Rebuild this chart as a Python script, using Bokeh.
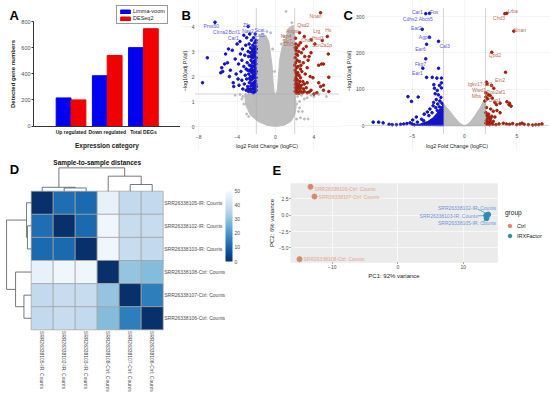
import math
from bokeh.plotting import figure
from bokeh.layouts import row, column
from bokeh.models import (Range1d, ColumnDataSource, Legend, LegendItem, FixedTicker,
                          LinearColorMapper, ColorBar, LinearAxis)
from bokeh.palettes import Blues256
from bokeh.transform import dodge
from bokeh.core.properties import value
from bokeh.embed import file_html
from bokeh.resources import INLINE

FONT = "Liberation Sans"

# ---------- Panel A ----------
A_CATS = ["Up regulated", "Down regulated", "Total DEGs"]
A_POS = [0.5, 1.5, 2.5]
A_LIMMA = [215, 385, 600]
A_DESEQ = [200, 540, 745]

# ---------- Panel B (log2FC, -log10 adj.P) ----------
B_GREY_OUTLINE = [(0, 0), (0.9, 0.05), (1.6, 0.2), (2.0, 0.45), (2.15, 0.8), (2.05, 1.3), (2.0, 2), (2.0, 3), (2.0, 3.6),
                  (1.85, 4.05), (1.4, 3.95), (1.1, 3.6), (0.7, 3.2), (0.45, 2.7), (0.3, 2.0), (0.2, 1.5), (0.05, 1.25),
                  (-0.15, 1.4), (-0.25, 1.8), (-0.35, 2.4), (-0.55, 3.0), (-0.7, 3.4), (-1.0, 3.65), (-1.6, 3.6),
                  (-2.0, 3.3), (-2.0, 1.4), (-3.2, 1.25), (-3.1, 0.85), (-2.6, 0.45), (-1.8, 0.2), (-0.9, 0.05)]
B_GREY_PTS = [(-3.5, 1.1), (-4.2, 1.25), (-3.3, 0.9), (-3.4, 1.2), (-3.0, 0.5), (-2.8, 0.4), (-3.7, 1.28), (-3.1, 1.28),
              (5.3, 1.2), (4.5, 1.28), (3.0, 1.1), (2.5, 1.0), (2.2, 0.9), (2.4, 0.6), (3.0, 0.3), (3.4, 0.3), (2.6, 0.35),
              (2.3, 1.2), (2.7, 1.25), (3.3, 1.15), (3.7, 1.25), (2.2, 0.3), (2.5, 0.75), (2.8, 0.6), (4.0, 1.2), (1.1, 4.6),
              (-0.5, 3.75), (-0.9, 3.8), (-1.4, 3.7), (1.7, 4.15), (0.9, 3.6), (0.6, 3.3), (-0.3, 3.1), (-0.1, 2.2)]
B_BLUE_PTS = [(-6.3, 4.17), (-7.6, 1.75), (-7.1, 2.75), (-5.7, 2.15), (-5.6, 2.35), (-5.5, 2.2), (-5.3, 2.5), (-5.2, 2.9),
              (-5.0, 2.55), (-4.9, 3.1), (-4.8, 2.0), (-4.7, 2.25), (-4.5, 3.05), (-4.4, 1.75), (-4.35, 1.6), (-4.2, 2.7),
              (-4.1, 2.1), (-4.0, 3.3), (-3.9, 1.9), (-3.85, 2.5), (-3.8, 1.65), (-3.7, 3.4), (-3.65, 2.9), (-3.6, 2.2),
              (-3.5, 1.85), (-3.5, 2.65), (-3.45, 3.1), (-3.4, 1.5), (-3.3, 3.65), (-3.3, 2.4), (-3.25, 1.7), (-3.2, 2.85),
              (-3.15, 2.05), (-3.1, 3.25), (-3.05, 1.45), (-3.0, 1.9), (-3.0, 3.55), (-2.95, 2.55), (-2.9, 2.25), (-2.9, 1.6),
              (-2.85, 3.0), (-2.85, 4.0), (-2.8, 1.4), (-2.8, 2.8), (-2.78, 2.1), (-2.75, 3.3), (-2.72, 1.75), (-2.7, 2.45),
              (-2.68, 3.7), (-2.65, 1.5), (-2.62, 2.95), (-2.6, 2.0), (-2.6, 3.15), (-2.58, 1.85), (-2.55, 2.65), (-2.52, 1.4),
              (-2.5, 2.3), (-2.5, 3.45), (-2.48, 2.85), (-2.46, 1.65), (-2.44, 2.15), (-2.42, 3.0), (-2.4, 1.9), (-2.4, 2.55),
              (-2.38, 1.5), (-2.36, 3.25), (-2.34, 2.75), (-2.32, 2.05), (-2.3, 1.35), (-2.3, 2.4), (-2.28, 3.55), (-2.26, 1.75),
              (-2.25, 2.9), (-2.24, 2.2), (-2.22, 3.1), (-2.2, 1.6), (-2.2, 2.6), (-2.18, 1.95), (-2.17, 3.35), (-2.16, 2.45),
              (-2.15, 1.4), (-2.14, 2.8), (-2.13, 3.0), (-2.12, 1.8), (-2.11, 2.3), (-2.1, 3.7), (-2.1, 1.55), (-2.09, 2.65),
              (-2.08, 2.1), (-2.07, 3.2), (-2.06, 1.7), (-2.05, 2.5), (-2.05, 2.95), (-2.04, 1.45), (-2.03, 1.95), (-2.03, 3.45),
              (-2.02, 2.2), (-2.02, 2.75), (-2.01, 1.6), (-2.01, 3.1), (-2.35, 1.62), (-2.45, 2.42), (-2.55, 1.62), (-2.62, 2.22),
              (-2.7, 1.92), (-2.25, 1.5), (-2.15, 2.0), (-2.1, 2.35), (-2.2, 2.85), (-2.3, 3.0), (-2.4, 3.1), (-2.35, 1.95),
              (-2.15, 1.68), (-2.08, 1.82), (-2.28, 2.58), (-2.12, 2.58), (-2.18, 3.15), (-2.06, 3.35), (-2.48, 1.95), (-2.58, 2.42),
              (-2.75, 2.25), (-2.85, 1.5), (-3.05, 2.3), (-2.1, 1.4), (-2.25, 2.05), (-2.38, 2.25), (-2.52, 2.78), (-2.42, 1.72)]
B_RED_PTS = [(4.69, 4.55), (2.08, 3.53), (4.87, 3.44), (5.4, 3.6), (3.72, 3.47), (4.1, 3.3), (3.2, 3.2), (3.0, 3.6), (2.5, 3.75),
             (5.5, 2.9), (5.0, 2.5), (4.5, 2.45), (4.8, 2.5), (3.7, 2.95), (3.5, 2.8), (3.4, 2.65), (3.6, 2.0), (3.9, 1.95),
             (5.55, 1.97), (4.5, 1.75), (4.7, 1.6), (5.0, 1.65), (5.55, 1.4), (5.0, 1.45), (4.0, 1.3), (4.3, 1.35), (3.7, 1.45),
             (3.2, 1.55), (3.0, 1.4), (3.1, 2.1), (3.3, 2.35), (2.9, 2.55), (2.7, 2.95), (2.9, 3.1), (2.6, 3.35), (2.4, 3.0),
             (2.1, 3.3), (2.2, 3.15), (2.3, 2.85), (2.15, 2.9), (2.05, 2.75), (2.5, 2.6), (2.35, 2.4), (2.6, 2.3), (2.75, 2.2),
             (2.1, 2.55), (2.2, 2.35), (2.05, 2.25), (2.45, 2.05), (2.2, 2.05), (2.1, 1.95), (2.3, 1.85), (2.05, 1.85),
             (2.55, 1.8), (2.15, 1.75), (2.4, 1.7), (2.7, 1.65), (2.25, 1.6), (2.08, 1.55), (2.5, 1.55), (2.9, 1.5), (2.35, 1.5),
             (2.15, 1.45), (2.6, 1.42), (2.3, 1.38), (2.05, 1.4), (2.8, 1.35), (2.45, 1.33), (2.2, 1.33), (3.3, 1.35), (3.5, 1.38),
             (2.65, 2.45), (2.25, 2.65), (2.12, 3.05), (2.4, 3.25), (2.05, 3.15), (3.05, 2.8), (2.85, 1.8), (2.6, 1.95), (2.12, 2.15),
             (2.32, 2.15), (2.02, 2.45), (2.18, 1.9), (2.42, 1.62), (2.62, 1.55), (2.08, 1.68), (3.0, 1.7), (3.3, 1.75)]
B_BLUE_LABELS = ["Prss50", "Zfn", "Clrna2", "Bcrl1", "Nav2", "Scat", "Car1", "Cal3"]
B_BLUE_LX = [-6.7, -3.0, -5.74, -4.3, -2.86, -1.67, -4.4, -1.67]
B_BLUE_LY = [4.04, 4.07, 3.8, 3.8, 3.81, 3.88, 3.55, 3.67]
B_RED_LABELS = ["Nnan", "Qsd2", "Angst", "Lrg", "Hs", "Nrp4", "Chd1", "Hsd3", "Scn2a1p", "Slc7", "Dlx5"]
B_RED_LX = [4.17, 2.9, 1.75, 4.3, 5.5, 1.1, 3.3, 4.4, 4.86, 1.2, 1.4]
B_RED_LY = [4.42, 4.08, 3.81, 3.81, 3.87, 3.62, 3.48, 3.55, 3.27, 3.42, 3.3]

# ---------- Panel C ----------
C_GREY_OUTLINE = [(-2, 0), (-2, 60), (-1.4, 40), (-1, 25), (-0.5, 8), (-0.1, 1), (0.1, 1), (0.5, 8), (1, 28), (1.5, 50),
                  (1.9, 72), (2, 70), (2, 0)]
C_BLUE_OUTLINE = [(-2, 0), (-2, 60), (-2.3, 48), (-2.6, 35), (-3, 22), (-3.5, 12), (-4.2, 5), (-5, 1)]
C_BLUE_PTS = [(-3.7, 308), (-3.34, 309), (-4.04, 265), (-3.34, 243), (-2.48, 232), (-3.62, 224), (-3.7, 184), (-3.98, 158),
              (-2.48, 158), (-3.62, 133), (-3.08, 133), (-2.64, 131), (-2.2, 131), (-2.2, 118), (-2.93, 113), (-2.39, 111),
              (-2.87, 103), (-2.2, 104), (-2.6, 97), (-2.8, 88), (-5.4, 80), (-4.42, 79), (-5.06, 67), (-2.5, 85), (-2.25, 78),
              (-2.7, 72), (-2.35, 68), (-2.95, 64), (-2.15, 62), (-2.55, 60), (-3.0, 55), (-2.4, 52), (-2.75, 50), (-3.3, 46),
              (-2.6, 42), (-3.55, 38), (-3.1, 36), (-3.85, 32), (-3.4, 28), (-4.6, 24), (-4.1, 18), (-3.9, 14), (-4.95, 16),
              (-4.5, 10), (-5.2, 8), (-5.5, 6), (-6.1, 4), (-5.8, 5), (-6.5, 3), (-6.9, 3), (-7.2, 4), (-7.77, 8), (-8.2, 10),
              (-8.72, 10), (-4.8, 3), (-5.0, 5), (-3.7, 6), (-4.0, 4)]
C_RED_PTS = [(3.85, 308), (4.04, 309), (4.71, 260), (2.61, 202), (3.92, 147), (2.1, 120), (2.15, 115), (2.58, 111), (2.8, 103),
             (2.05, 90), (2.3, 85), (2.45, 83), (2.05, 79), (2.2, 74), (2.65, 76), (1.95, 68), (2.9, 64), (3.05, 58), (3.4, 62),
             (4.05, 66), (4.25, 58), (4.45, 54), (4.3, 62), (2.1, 50), (2.5, 46), (2.75, 40), (3.1, 42), (3.4, 36), (2.3, 32),
             (2.6, 26), (2.9, 24), (2.2, 20), (2.45, 16), (2.75, 12), (2.1, 14), (2.3, 10), (2.55, 8), (2.05, 7), (2.15, 4),
             (2.4, 3), (2.7, 4), (3.0, 3), (3.3, 5), (3.7, 7), (4.0, 5), (4.3, 4), (4.6, 6), (5.0, 3), (5.3, 5), (5.5, 7), (5.7, 4),
             (6.1, 3), (6.5, 2), (6.8, 3), (7.1, 3), (7.4, 5), (2.25, 6), (2.5, 20), (2.35, 24), (2.15, 28), (2.05, 36)]
C_BLUE_LABELS = ["Car1", "Fos", "Cdhs2", "Abcb5", "Ear2", "Agp1", "Ear6", "Cal3", "Fkg7", "Ear1"]
C_BLUE_LX = [-4.5, -2.9, -5.2, -3.7, -4.6, -3.8, -4.2, -1.9, -4.2, -4.5]
C_BLUE_LY = [312, 312, 293, 293, 270, 245, 212, 220, 170, 145]
C_RED_LABELS = ["Lrba", "Chd3", "Nnan", "Qpd2", "Eln2", "Igkv17-121", "Wwd1", "Pou2af1", "Mbs", "Dsp1"]
C_RED_LX = [4.6, 3.3, 5.3, 2.9, 3.4, 1.5, 1.4, 3.0, 1.15, 2.9]
C_RED_LY = [314, 295, 263, 195, 125, 116, 98, 92, 82, 70]

# ---------- Panel D ----------
SAMPLES = ["SRR26338105-IR: Counts", "SRR26338102-IR: Counts", "SRR26338103-IR: Counts",
           "SRR26338108-Ctrl: Counts", "SRR26338107-Ctrl: Counts", "SRR26338106-Ctrl: Counts"]
DIST = [[0, 12, 11, 46, 37, 37],
        [12, 0, 11, 48, 38, 38],
        [11, 11, 0, 48, 38, 37],
        [46, 48, 48, 0, 30, 28],
        [37, 38, 38, 30, 0, 15],
        [37, 38, 37, 28, 15, 0]]
# dendrogram: (position a, position b, height of a, height of b, height of join)
COL_TREE = [(1.5, 2.5, 0, 0, 0.14), (0.5, 2.0, 0, 0.14, 0.17), (4.5, 5.5, 0, 0, 0.29), (3.5, 5.0, 0, 0.29, 0.65),
            (1.26, 4.25, 0.17, 0.65, 1.01)]
ROW_TREE = [(4.5, 3.5, 0, 0, 0.17), (5.5, 4.0, 0, 0.17, 0.21), (1.5, 0.5, 0, 0, 0.33), (2.5, 1.0, 0, 0.33, 0.71),
            (4.75, 1.75, 0.21, 0.71, 1.12)]

# ---------- Panel E ----------
E_GROUPS = ["Ctrl", "IRXFactor"]
E_CTRL_X = [-13.33, -12.72, -15.0]
E_CTRL_Y = [4.35, 2.86, -6.74]
E_IR_X = [13.8, 13.5, 13.55]
E_IR_Y = [0.1, -0.05, -0.46]
E_CTRL_LABELS = ["SRR26338106-Ctrl: Counts", "SRR26338107-Ctrl: Counts", "SRR26338108-Ctrl: Counts"]
E_CTRL_LX = [-12.7, -12.1, -14.4]
E_CTRL_LY = [3.95, 2.8, -6.7]
E_IR_LABELS = ["SRR26338102-IR: Counts", "SRR26338103-IR: Counts", "SRR26338105-IR: Counts"]
E_IR_LX = [15.0, 12.2, 15.0]
E_IR_LY = [1.05, -0.1, -1.25]

TXT = "#4d4d4d"
BLUE, RED, GREY = "#1212c8", "#a3200f", "#bdbdbd"


def canvas(w, h, xr, yr):
    """A figure whose plot frame fills it; axes sit at fixed places inside it."""
    p = figure(width=w, height=h, x_range=Range1d(*xr), y_range=Range1d(*yr), output_backend="svg", toolbar_location=None,
               min_border_left=0, min_border_right=0, min_border_top=0, min_border_bottom=0,
               outline_line_color=None, background_fill_color=None, border_fill_color=None)
    return p


def tag(p, letter, x, y):
    p.text([x], [y], text=[letter], text_font=value(FONT), text_font_style="bold", text_font_size="13px",
           text_color="#000000", text_align="left", text_baseline="middle")


def base_axes(p, size="5px", lab="6px"):
    for ax in p.axis:
        ax.major_label_text_font = FONT
        ax.axis_label_text_font = FONT
        ax.major_label_text_font_size = size
        ax.axis_label_text_font_size = lab
        ax.axis_label_text_font_style = "normal"
        ax.major_label_text_color = TXT
        ax.axis_label_text_color = "#222222"
        ax.major_label_standoff = 1
        ax.axis_label_standoff = 1
        ax.minor_tick_line_color = None
        ax.major_tick_out = 0
        ax.major_tick_in = 0
        ax.axis_line_color = None


def place(p, xfix, yfix, xbounds, ybounds):
    """xfix: y-value where the x axis sits; yfix: x-value where the y axis sits."""
    p.xaxis.fixed_location = xfix
    p.yaxis.fixed_location = yfix
    p.xaxis.bounds = xbounds
    p.yaxis.bounds = ybounds
    p.xgrid.bounds = ybounds
    p.ygrid.bounds = xbounds


# Panel A
a = canvas(180, 150, (-1.448, 3.524), (-187.6, 961))
src = ColumnDataSource(dict(pos=A_POS, limma=A_LIMMA, deseq=A_DESEQ))
r1 = a.vbar(x=dodge("pos", -0.205), top="limma", width=0.41, source=src, color="#0000f0")
r2 = a.vbar(x=dodge("pos", 0.205), top="deseq", width=0.41, source=src, color="#f00000")
a.grid.visible = False
base_axes(a, "5.5px", "6.5px")
a.xaxis.fixed_location = 0
a.yaxis.fixed_location = -0.536
a.xaxis.bounds = (-0.536, 3.524)
a.yaxis.bounds = (0, 800)
a.yaxis.ticker = FixedTicker(ticks=[0, 200, 400, 600, 800])
a.xaxis.ticker = FixedTicker(ticks=A_POS)
a.xaxis.major_label_overrides = dict(zip(A_POS, A_CATS))
a.yaxis.axis_line_color = "#333333"
a.xaxis.axis_line_color = "#333333"
a.yaxis.major_tick_out = 2
a.yaxis.major_tick_line_color = "#333333"
a.xaxis.major_tick_line_color = None
a.xaxis.major_label_text_font_style = "bold"
a.xaxis.major_label_text_font_size = "5px"
a.xaxis.major_label_text_color = "#222222"
a.xaxis.major_label_standoff = 3
a.xaxis.axis_label_standoff = 3
a.xaxis.axis_label = "Expression category"
a.yaxis.axis_label = "Detected gene numbers"
a.xaxis.axis_label_text_font_style = "bold"
a.yaxis.axis_label_text_font_style = "bold"
a.yaxis.axis_label_text_font_size = "6px"
a.yaxis.axis_label_standoff = 2
leg = Legend(items=[LegendItem(label="Limma-voom", renderers=[r1]), LegendItem(label="DESeq2", renderers=[r2])],
             location=(116, 126), label_text_font=FONT, label_text_font_size="5.5px", label_text_color="#222222",
             glyph_width=12, glyph_height=5, label_height=5, padding=2, spacing=1, margin=0, label_standoff=2,
             border_line_color="#333333", background_fill_alpha=1)
a.add_layout(leg)
tag(a, "A", -1.199, 846)


def volcano(width, xr, yr, fx, fy, xticks, yticks, outline, blue, red, grey_pts, blab, blx, bly, rlab, rlx, rly, hl, extra_patch=None):
    p = canvas(width, 150, xr, yr)
    p.patch([q[0] for q in outline], [q[1] for q in outline], fill_color=GREY, line_color=GREY, line_width=1)
    if grey_pts:
        p.scatter([q[0] for q in grey_pts], [q[1] for q in grey_pts], size=2, color=GREY)
    if extra_patch:
        p.patch([q[0] for q in extra_patch], [q[1] for q in extra_patch], fill_color=BLUE, line_color=BLUE)
    p.scatter([q[0] for q in blue], [q[1] for q in blue], size=2.6, color=BLUE)
    p.scatter([q[0] for q in red], [q[1] for q in red], size=2.6, color=RED)
    p.line([-2, -2], list(fy), line_color="#a8a8a8", line_width=1, line_dash="1 1")
    p.line([2, 2], list(fy), line_color="#a8a8a8", line_width=1, line_dash="1 1")
    p.line(list(fx), [hl, hl], line_color="#a8a8a8", line_width=1, line_dash="1 1")
    p.text(blx, bly, text=blab, text_font=value(FONT), text_font_size="5px", text_color="#5a5ae6",
           text_align="center", text_baseline="middle")
    p.text(rlx, rly, text=rlab, text_font=value(FONT), text_font_size="5px", text_color="#bb6a55",
           text_align="center", text_baseline="middle")
    p.xaxis.ticker = FixedTicker(ticks=xticks)
    p.yaxis.ticker = FixedTicker(ticks=yticks)
    p.xgrid.ticker = FixedTicker(ticks=xticks)
    p.ygrid.ticker = FixedTicker(ticks=yticks)
    p.grid.grid_line_color = "#eeeeee"
    p.grid.grid_line_width = 0.6
    base_axes(p, "5px", "5.4px")
    place(p, fy[0], fx[0], fx, fy)
    p.xaxis.axis_label = "log2 Fold Change (logFC)"
    p.yaxis.axis_label = "\u2212log10(adj.P.Val)"
    return p


b = volcano(162, (-9.896, 6.979), (-0.96, 5.04), (-8.33, 6.56), (-0.28, 4.72), [-8, -4, 0, 4], [0, 1, 2, 3, 4],
            B_GREY_OUTLINE, B_BLUE_PTS, B_RED_PTS, B_GREY_PTS, B_BLUE_LABELS, B_BLUE_LX, B_BLUE_LY,
            B_RED_LABELS, B_RED_LX, B_RED_LY, 1.3)
tag(b, "B", -9.79, 4.44)
c = volcano(208, (-11.652, 8.214), (-67.9, 344.2), (-9.46, 8.0), (-21, 322), [-5, 0, 5], [0, 100, 200, 300],
            C_GREY_OUTLINE, C_BLUE_PTS, C_RED_PTS, None, C_BLUE_LABELS, C_BLUE_LX, C_BLUE_LY,
            C_RED_LABELS, C_RED_LX, C_RED_LY, 1.3, C_BLUE_OUTLINE)
tag(c, "C", -11.56, 303)

# Panel D
d = canvas(262, 245, (-1.395, 10.514), (-2.844, 7.762))
mapper = LinearColorMapper(palette=Blues256, low=0, high=50)
hx, hy, hv = [], [], []
for i, rw in enumerate(DIST):
    for j, val in enumerate(rw):
        hx.append(j + 0.5)
        hy.append(5.5 - i)
        hv.append(val)
d.rect(x="x", y="y", width=1, height=1, fill_color={"field": "v", "transform": mapper}, line_color="#a0a0a0", line_width=0.7,
       source=ColumnDataSource(dict(x=hx, y=hy, v=hv)))
top_x, top_y, left_x, left_y = [], [], [], []
for (u, w, hu, hw, hj) in COL_TREE:
    top_x.append([u, u, w, w])
    top_y.append([6 + hu, 6 + hj, 6 + hj, 6 + hw])
for (u, w, hu, hw, hj) in ROW_TREE:
    left_x.append([-hu, -hj, -hj, -hw])
    left_y.append([u, u, w, w])
d.multi_line(top_x, top_y, line_color="#555555", line_width=0.8)
d.multi_line(left_x, left_y, line_color="#555555", line_width=0.8)
d.text([3.0], [7.24], text=["Sample-to-sample distances"], text_font=value(FONT), text_font_style="bold", text_font_size="6.5px",
       text_color="#111111", text_align="center", text_baseline="middle")
d.grid.visible = False
d.yaxis.visible = False
centres = [0.5, 1.5, 2.5, 3.5, 4.5, 5.5]
d.xaxis.ticker = FixedTicker(ticks=centres)
d.xaxis.major_label_overrides = dict(zip(centres, SAMPLES))
d.xaxis.major_label_orientation = -math.pi / 2
d.xaxis.bounds = (0, 6)
d.xaxis.fixed_location = 0
ra = LinearAxis(ticker=FixedTicker(ticks=centres[::-1]),
                major_label_overrides=dict(zip(centres[::-1], SAMPLES)), bounds=(0, 6), fixed_location=6)
d.add_layout(ra, "right")
base_axes(d, "5px", "5px")
cb = ColorBar(color_mapper=mapper, width=7, height=71, location=(225, 134), padding=0, margin=0,
              ticker=FixedTicker(ticks=[0, 10, 20, 30, 40, 50]), major_label_text_font=FONT, major_label_text_font_size="5px",
              major_label_text_color=TXT, major_tick_line_color=None, bar_line_color=None, label_standoff=2,
              border_line_color=None, background_fill_color=None)
d.add_layout(cb)
tag(d, "D", -0.973, 6.92)

# Panel E
e = canvas(288, 245, (-20.656, 23.313), (-27.61, 9.908))
CTRL_C, IR_C = "#d58a70", "#2f8db5"
e.quad(left=-16.38, right=15.27, bottom=-7.29, top=4.9, fill_color="#ebebeb", line_color=None, level="image")
e.segment([12.2, 12.2, 13.0], [0.95, -0.1, -1.15], [13.8, 13.5, 13.55], [0.1, -0.05, -0.46], line_color="#2f8db5", line_width=0.7)
rc = e.scatter(E_CTRL_X, E_CTRL_Y, size=5, color=CTRL_C)
ri = e.scatter(E_IR_X, E_IR_Y, size=5, color=IR_C)
e.text(E_CTRL_LX, E_CTRL_LY, text=E_CTRL_LABELS, text_font=value(FONT), text_font_size="5px", text_color="#e0a58f",
       text_align="left", text_baseline="middle")
e.text(E_IR_LX, E_IR_LY, text=E_IR_LABELS, text_font=value(FONT), text_font_size="5px", text_color="#6f94d8",
       text_align="right", text_baseline="middle")
e.xaxis.ticker = FixedTicker(ticks=[-10, 0, 10])
e.yaxis.ticker = FixedTicker(ticks=[-5, -2.5, 0, 2.5])
e.xgrid.ticker = FixedTicker(ticks=[-10, 0, 10])
e.ygrid.ticker = FixedTicker(ticks=[-5, -2.5, 0, 2.5])
e.yaxis.major_label_overrides = {-5: "\u22125.0", -2.5: "\u22122.5", 0: "0.0", 2.5: "2.5"}
e.xaxis.major_label_overrides = {-10: "\u221210", 0: "0", 10: "10"}
e.grid.grid_line_color = "#ffffff"
e.grid.grid_line_width = 0.6
base_axes(e, "5px", "6px")
place(e, -7.29, -16.38, (-16.38, 15.27), (-7.29, 4.9))
for ax in e.axis:
    ax.major_tick_out = 1
    ax.major_tick_line_color = "#555555"
e.xaxis.axis_label = "PC1: 92% variance"
e.yaxis.axis_label = "PC2: 6% variance"
lg = Legend(items=[LegendItem(label=E_GROUPS[0], renderers=[rc]), LegendItem(label=E_GROUPS[1], renderers=[ri])],
            title="group", title_text_font=FONT, title_text_font_size="6.5px", title_text_font_style="normal", title_text_color="#222222",
            label_text_font=FONT, label_text_font_size="5.5px", label_text_color="#222222", glyph_width=9, glyph_height=9,
            label_height=9, spacing=1, padding=2, margin=0, label_standoff=3, border_line_color=None, background_fill_alpha=0,
            location=(243, 155))
e.add_layout(lg)
tag(e, "E", -19.13, 6.85)

page = column(row(a, b, c, spacing=0), row(d, e, spacing=0), spacing=0)
open("out.html", "w").write(file_html(page, INLINE))
